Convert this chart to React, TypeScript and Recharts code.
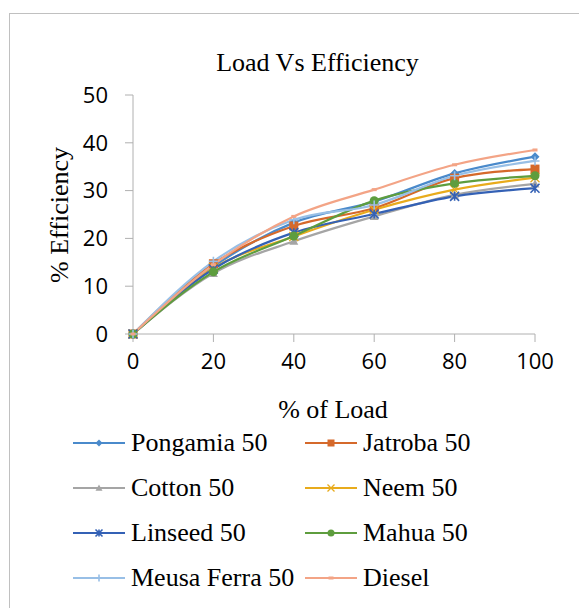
import { LineChart, Line, XAxis, YAxis } from "recharts";

const loads = [0, 20, 40, 60, 80, 100];
const pongamia = [0, 14.1, 23.3, 27.7, 33.6, 37.1];
const jatroba = [0, 14.7, 22.6, 26.3, 32.6, 34.5];
const cotton = [0, 12.7, 19.4, 24.6, 29.1, 31.4];
const neem = [0, 13.8, 20.4, 26.0, 30.2, 32.7];
const linseed = [0, 13.6, 21.2, 25.1, 28.8, 30.5];
const mahua = [0, 13.0, 20.5, 27.9, 31.5, 33.1];
const meusaFerra = [0, 15.2, 23.9, 27.0, 33.1, 36.2];
const diesel = [0, 14.5, 24.6, 30.2, 35.4, 38.5];

const yTicks = [0, 10, 20, 30, 40, 50];

type Shape = "diamond" | "square" | "triangle" | "x" | "star" | "circle" | "plus" | "dash";

const SERIES: { key: string; name: string; values: number[]; color: string; shape: Shape }[] = [
  { key: "pongamia", name: "Pongamia 50", values: pongamia, color: "#4a8acb", shape: "diamond" },
  { key: "jatroba", name: "Jatroba 50", values: jatroba, color: "#d5692b", shape: "square" },
  { key: "cotton", name: "Cotton 50", values: cotton, color: "#a5a5a5", shape: "triangle" },
  { key: "neem", name: "Neem 50", values: neem, color: "#e8ab1c", shape: "x" },
  { key: "linseed", name: "Linseed 50", values: linseed, color: "#3461b5", shape: "star" },
  { key: "mahua", name: "Mahua 50", values: mahua, color: "#5e9d3e", shape: "circle" },
  { key: "meusa", name: "Meusa Ferra 50", values: meusaFerra, color: "#98bfe6", shape: "plus" },
  { key: "diesel", name: "Diesel", values: diesel, color: "#f3a486", shape: "dash" },
];

const data = loads.map((load, i) => {
  const row: Record<string, number> = { load };
  SERIES.forEach((s) => {
    row[s.key] = s.values[i];
  });
  return row;
});

const SERIF = '"Liberation Serif", "Times New Roman", serif';
const SANS = '"Open Sans", "Liberation Sans", sans-serif';
const AXIS = "#b0b0b0";

function Marker({ cx, cy, shape, color, r = 4.5 }: { cx: number; cy: number; shape: Shape; color: string; r?: number }) {
  switch (shape) {
    case "diamond":
      return <path d={`M${cx},${cy - r} L${cx + r},${cy} L${cx},${cy + r} L${cx - r},${cy} Z`} fill={color} />;
    case "square":
      return <rect x={cx - r} y={cy - r} width={r * 2} height={r * 2} fill={color} />;
    case "triangle":
      return <path d={`M${cx},${cy - r} L${cx + r},${cy + r * 0.8} L${cx - r},${cy + r * 0.8} Z`} fill={color} />;
    case "x":
      return (
        <path d={`M${cx - r},${cy - r} L${cx + r},${cy + r} M${cx + r},${cy - r} L${cx - r},${cy + r}`} stroke={color} strokeWidth={1.3} />
      );
    case "star":
      return (
        <path
          d={`M${cx - r},${cy - r} L${cx + r},${cy + r} M${cx + r},${cy - r} L${cx - r},${cy + r} M${cx},${cy - r} L${cx},${cy + r}`}
          stroke={color}
          strokeWidth={1.6}
        />
      );
    case "circle":
      return <circle cx={cx} cy={cy} r={r} fill={color} />;
    case "plus":
      return <path d={`M${cx - r},${cy} L${cx + r},${cy} M${cx},${cy - r} L${cx},${cy + r}`} stroke={color} strokeWidth={1.6} />;
    case "dash":
      return <rect x={cx - 2.5} y={cy - 1.5} width={5} height={3} fill={color} />;
  }
}

function LegendItem({ name, color, shape }: { name: string; color: string; shape: Shape }) {
  return (
    <div style={{ display: "flex", alignItems: "center", height: 45 }}>
      <svg width={52} height={20} style={{ display: "block" }}>
        <line x1={0} y1={10} x2={52} y2={10} stroke={color} strokeWidth={2} />
        <Marker cx={26} cy={10} shape={shape} color={color} r={3.5} />
      </svg>
      <span style={{ marginLeft: 6, fontFamily: SERIF, fontSize: 26, whiteSpace: "nowrap", lineHeight: "30px" }}>{name}</span>
    </div>
  );
}

export default function App() {
  return (
    <div style={{ position: "fixed", left: 0, top: 0, width: 579, height: 608, overflow: "hidden", background: "#fff" }}>
      <div style={{ position: "absolute", left: 9, top: 13, width: 700, height: 700, border: "1px solid #c0c0c0" }} />
      <div
        style={{
          position: "absolute",
          left: 117.5,
          top: 48,
          width: 400,
          textAlign: "center",
          fontFamily: SERIF,
          fontSize: 26,
          lineHeight: "30px",
        }}
      >
        Load Vs Efficiency
      </div>
      <div style={{ position: "absolute", left: 0, top: 0 }}>
        <LineChart width={579} height={448} data={data} margin={{ top: 95, right: 44, left: 53, bottom: 54 }}>
          <XAxis
            dataKey="load"
            type="number"
            domain={[0, 100]}
            ticks={loads}
            height={60}
            stroke={AXIS}
            tickSize={8}
            tickMargin={11}
            tick={{ fill: "#000", fontSize: 22, fontFamily: SANS }}
          />
          <YAxis
            type="number"
            domain={[0, 50]}
            ticks={yTicks}
            width={80}
            stroke={AXIS}
            tickSize={8}
            tickMargin={17}
            tick={{ fill: "#000", fontSize: 22, fontFamily: SANS }}
          />
          {SERIES.map((s) => (
            <Line
              key={s.key}
              dataKey={s.key}
              name={s.name}
              type="monotone"
              stroke={s.color}
              strokeWidth={2.2}
              isAnimationActive={false}
              dot={(p: any) => <Marker key={`${s.key}-${p.index}`} cx={p.cx} cy={p.cy} shape={s.shape} color={s.color} />}
              activeDot={false}
            />
          ))}
        </LineChart>
      </div>
      <div
        style={{
          position: "absolute",
          left: 233,
          top: 395,
          width: 200,
          textAlign: "center",
          fontFamily: SERIF,
          fontSize: 26,
          lineHeight: "30px",
        }}
      >
        % of Load
      </div>
      <div
        style={{
          position: "absolute",
          left: -40,
          top: 200,
          width: 200,
          textAlign: "center",
          fontFamily: SERIF,
          fontSize: 26,
          lineHeight: "30px",
          transform: "rotate(-90deg)",
        }}
      >
        % Efficiency
      </div>
      <div
        style={{
          position: "absolute",
          left: 73,
          top: 420.5,
          width: 480,
          display: "grid",
          gridTemplateColumns: "232px 248px",
        }}
      >
        {SERIES.map((s) => (
          <LegendItem key={s.key} name={s.name} color={s.color} shape={s.shape} />
        ))}
      </div>
    </div>
  );
}
